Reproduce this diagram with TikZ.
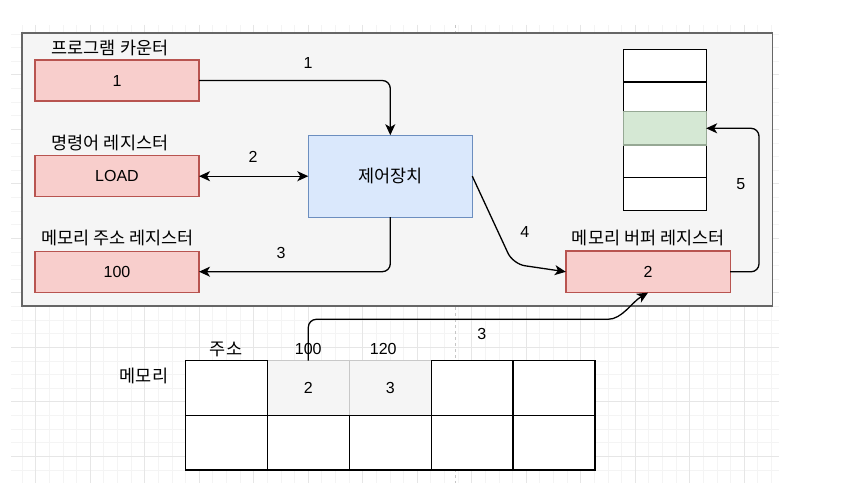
\documentclass[tikz,border=0pt]{standalone}
\usepackage{fontspec}
\setmainfont{Liberation Sans}
\newfontfamily\krfont{Noto Sans CJK KR}
\usetikzlibrary{positioning}
\usetikzlibrary{arrows.meta}

\definecolor{regfill}{HTML}{F8CECC}
\definecolor{regdraw}{HTML}{B85450}
\definecolor{cufill}{HTML}{DAE8FC}
\definecolor{cudraw}{HTML}{6C8EBF}
\definecolor{hitfill}{HTML}{D5E8D4}
\definecolor{hitdraw}{HTML}{96A894}
\definecolor{cpufill}{HTML}{F5F5F5}
\definecolor{cpudraw}{HTML}{666666}
\definecolor{memdraw}{HTML}{C8C8C8}
\definecolor{gridminor}{HTML}{F4F4F4}
\definecolor{gridmajor}{HTML}{E6E6E6}

\tikzset {
  box/.style = {
    draw = black,
    fill = white,
    line width = 1.3pt,
    inner sep = 0,
    outer sep = 0,
    font = \fontsize{16}{19}\selectfont
  },
  % register boxes
  reg/.style = {
    box,
    fill = regfill,
    draw = regdraw,
    minimum width = 164pt,
    minimum height = 41pt
  },
  % control unit
  unit/.style = {
    box,
    fill = cufill,
    draw = cudraw,
    minimum width = 164pt,
    minimum height = 82pt,
    font = \krfont\fontsize{17.5}{20}\selectfont
  },
  % cpu frame
  cpu/.style = {
    box,
    fill = cpufill,
    draw = cpudraw,
    line width = 1.6pt
  },
  % memory cells
  mem/.style = {
    box,
    minimum width = 81.9pt,
    minimum height = 54.65pt
  },
  memused/.style = {
    mem,
    fill = cpufill,
    draw = memdraw
  },
  % cache rows
  row/.style = {
    box,
    minimum width = 82.7pt
  },
  rowhit/.style = {
    row,
    fill = hitfill,
    draw = hitdraw
  },
  % texts
  klabel/.style = {
    inner sep = 0,
    font = \krfont\fontsize{17.5}{20}\selectfont
  },
  num/.style = {
    inner sep = 0,
    font = \fontsize{16}{19}\selectfont
  },
  % connectors
  link/.style = {
    draw = black,
    line width = 1.3pt,
    rounded corners = 8pt,
    -{Stealth[length=11pt, width=10pt, inset=3pt]}
  },
  dlink/.style = {
    link,
    {Stealth[length=11pt, width=10pt, inset=3pt]}-{Stealth[length=11pt, width=10pt, inset=3pt]}
  }
}

\begin{document}
\begin{tikzpicture}[x=1pt, y=-1pt]
    \useasboundingbox (0,0) rectangle (846,494);

    % background grid
    \foreach \k in {-1,...,54}
      \draw[gridminor, line width=0.8pt] ({35.7+13.625*\k},25) -- ++(0,458);
    \foreach \k in {-23,...,9}
      \draw[gridminor, line width=0.8pt] (11,{347.3+13.625*\k}) -- ++(768,0);
    \foreach \k in {0,4,...,52}
      \draw[gridmajor, line width=0.8pt] ({35.7+13.625*\k},25) -- ++(0,458);
    \foreach \k in {-20,-16,...,8}
      \draw[gridmajor, line width=0.8pt] (11,{347.3+13.625*\k}) -- ++(768,0);
    \draw[gray!45, line width=0.8pt, dash pattern=on 3pt off 3pt] (455,25) -- (455,483);

    \node[cpu, minimum width=750.6pt, minimum height=273.3pt] (cpu) at (397,169.4) {};

    \node[reg] (pc) at (117,80.5) {1};
    \node[reg] (ir) at (117,176.2) {LOAD};
    \node[reg] (mar) at (117,271.7) {100};
    \node[unit] (cu) at (390.3,176.2) {제어장치};
    \node[reg, minimum width=164.3pt, minimum height=41.7pt] (mbr) at (648,271.8) {2};

    \node[klabel] (pc-label) at (110,48.3) {프로그램 카운터};
    \node[klabel] (ir-label) at (110,143.3) {명령어 레지스터};
    \node[klabel] (mar-label) at (117.5,238.3) {메모리 주소 레지스터};
    \node[klabel] (mbr-label) at (648.3,238.3) {메모리 버퍼 레지스터};

    \node[row, minimum height=32.7pt] (s1) at (664.8,65.6) {};
    \node[row, minimum height=29.7pt] (s2) [below=0pt of s1] {};
    \node[row, minimum height=32.3pt] (s4) [below=33.3pt of s2] {};
    \node[row, minimum height=33.4pt] (s5) [below=0pt of s4] {};
    \node[rowhit, minimum height=33.3pt] (s3) [below=0pt of s2] {};

    \node[memused] (m12) at (308.3,388) {2};
    \node[memused] (m13) [right=0pt of m12] {3};
    \node[mem] (m11) [left=0pt of m12] {};
    \node[mem] (m14) [right=0pt of m13] {};
    \node[mem] (m15) [right=0pt of m14] {};
    \node[mem] (m21) [below=0pt of m11] {};
    \node[mem] (m22) [below=0pt of m12] {};
    \node[mem] (m23) [below=0pt of m13] {};
    \node[mem] (m24) [below=0pt of m14] {};
    \node[mem] (m25) [below=0pt of m15] {};

    \node[klabel] (mem-label) at (144,376) {메모리};
    \node[klabel] (addr-label) at (226,349) {주소};
    \node[num] (addr100) at (308.3,349) {100};
    \node[num] (addr120) at (383.3,349) {120};

    \coordinate (bend4) at (513,264);
    \coordinate (up5) at (759,128.3);
    \coordinate (bend3) at (600,319.3);

    \draw[link] (pc.east) -| (cu.north);
    \draw[dlink] (ir.east) -- (cu.west);
    \draw[link] (cu.south) |- (mar.east);
    \draw[link, rounded corners=12pt] (cu.east) -- (bend4) -- (mbr.west);
    \draw[link] (mbr.east) -| (up5) -- (s3.east);
    \draw[link] (m12.north) |- (bend3) .. controls (622,319.3) and (632,302) .. (mbr.south);

    \node[num] (n1) at (308,63.3) {1};
    \node[num] (n2) at (253,156.7) {2};
    \node[num] (n3) at (281,253) {3};
    \node[num] (n4) at (524.7,232.3) {4};
    \node[num] (n5) at (740.7,184.3) {5};
    \node[num] (n3b) at (481.7,334.3) {3};
\end{tikzpicture}
\end{document}
